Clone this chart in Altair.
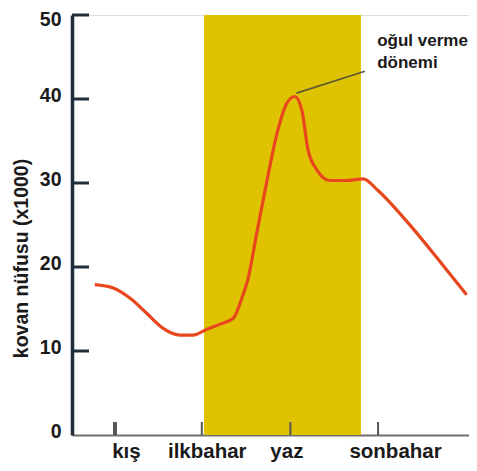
import altair as alt
import pandas as pd

# curve (season units on x, hive population x1000 on y)
curve_x = [0.77, 0.98, 1.17, 1.37, 1.55, 1.74, 1.89, 2.05, 2.20, 2.35, 2.46, 2.51,
           2.62, 2.73, 2.85, 2.96, 3.05, 3.13, 3.20, 3.30, 3.45, 3.65, 3.83, 3.99,
           4.33, 4.71, 5.01]
curve_y = [17.9, 17.5, 16.3, 14.4, 12.7, 11.9, 11.9, 12.6, 13.2, 13.9, 16.7, 18.3,
           24.2, 30.1, 36.0, 39.5, 40.3, 38.7, 34.0, 31.6, 30.3, 30.3, 30.5, 29.2,
           25.4, 20.6, 16.7]

seasons = ["kış", "ilkbahar", "yaz", "sonbahar"]
season_pos = [1.0, 1.99, 3.0, 4.0]
y_ticks = [10, 20, 30, 40, 50]

band_start, band_end = 2.015, 3.805
y_min, y_max = 0, 50
x_min, x_max = 0.51, 5.037

ann_text = ["oğul verme", "dönemi"]
ann_line = {"x": 3.07, "y": 40.7, "x2": 3.85, "y2": 43.3}
ann_pos = {"x": 3.99, "y": 47.8}

curve_df = pd.DataFrame({"x": curve_x, "y": curve_y})
season_df = pd.DataFrame({"season": seasons, "x": season_pos})
ytick_df = pd.DataFrame({"y": y_ticks})
band_df = pd.DataFrame({"x": [band_start], "x2": [band_end], "y": [y_min], "y2": [y_max]})
annline_df = pd.DataFrame([ann_line])
anntext_df = pd.DataFrame([{"x": ann_pos["x"], "y": ann_pos["y"], "t": ann_text}])

FONT = "Liberation Sans"
W, H = 397, 420

label_expr = " : ".join(
    [f"datum.value == {p} ? '{s}'" for p, s in zip(season_pos, seasons)]
) + " : ''"

xscale = alt.Scale(domain=[x_min, x_max], nice=False, zero=False)
yscale = alt.Scale(domain=[y_min, y_max], nice=False)

x_axis = alt.Axis(
    values=season_pos, labelExpr=label_expr, title=None, grid=False,
    ticks=False, tickSize=0, domainColor="#6e6e6e", domainWidth=2,
    labelFont=FONT, labelFontSize=20.5, labelFontWeight="bold",
    labelColor="#1a1a1a", labelPadding=6, labelFlush=False,
    labelOffset={"expr": "datum.value == 1 ? 11 : datum.value == 4 ? 17 : datum.value == 3 ? -4 : 5"},
)
y_axis = alt.Axis(
    values=[0, 10, 20, 30, 40, 50], title="kovan nüfusu (x1000)", grid=False,
    ticks=False, tickSize=0, domainColor="#1f2c3a", domainWidth=3.5,
    labelFont=FONT, labelFontSize=19.5, labelFontWeight="bold",
    labelColor="#1a1a1a", labelPadding=11, labelFlush=False,
    labelOffset={"expr": "datum.value == 50 ? 4 : -4"},
    titleFont=FONT, titleFontSize=19.5, titleFontWeight="bold",
    titleColor="#1a1a1a", titleX=-41, titleY=243, titleBaseline="bottom",
)

band = alt.Chart(band_df).mark_rect(color="#DFC200").encode(
    x=alt.X("x:Q", scale=xscale, axis=x_axis),
    x2="x2:Q",
    y=alt.Y("y:Q", scale=yscale, axis=y_axis),
    y2="y2:Q",
)

yticks = alt.Chart(ytick_df).mark_rule(color="#1f2c3a", strokeWidth=3).encode(
    y=alt.Y("y:Q", scale=yscale),
    x=alt.value(0),
    x2=alt.value(17),
)

xticks = alt.Chart(season_df).mark_rule(color="#555555").encode(
    x=alt.X("x:Q", scale=xscale),
    y=alt.value(H),
    y2=alt.value(H - 13),
    strokeWidth=alt.condition(alt.datum.season == "kış", alt.value(4), alt.value(2)),
)

line = alt.Chart(curve_df).mark_line(
    color="#E8471E", strokeWidth=3.2, interpolate="monotone"
).encode(
    x=alt.X("x:Q", scale=xscale),
    y=alt.Y("y:Q", scale=yscale),
)

annline = alt.Chart(annline_df).mark_rule(color="#5e5834", strokeWidth=1.6).encode(
    x=alt.X("x:Q", scale=xscale), y=alt.Y("y:Q", scale=yscale),
    x2="x2:Q", y2="y2:Q",
)

anntext = alt.Chart(anntext_df).mark_text(
    align="left", baseline="top", font=FONT, fontSize=17, fontWeight="bold",
    color="#1a1a1a", lineHeight=22,
).encode(
    x=alt.X("x:Q", scale=xscale), y=alt.Y("y:Q", scale=yscale), text="t"
)

chart = alt.layer(band, xticks, yticks, line, annline, anntext).properties(
    width=W, height=H,
    autosize=alt.AutoSizeParams(type="none"),
    padding={"left": 64, "top": 7, "right": 0, "bottom": 28},
).configure_view(stroke=None).configure(background="white")

chart.save("out.html", embed_options={"renderer": "svg", "actions": False})
